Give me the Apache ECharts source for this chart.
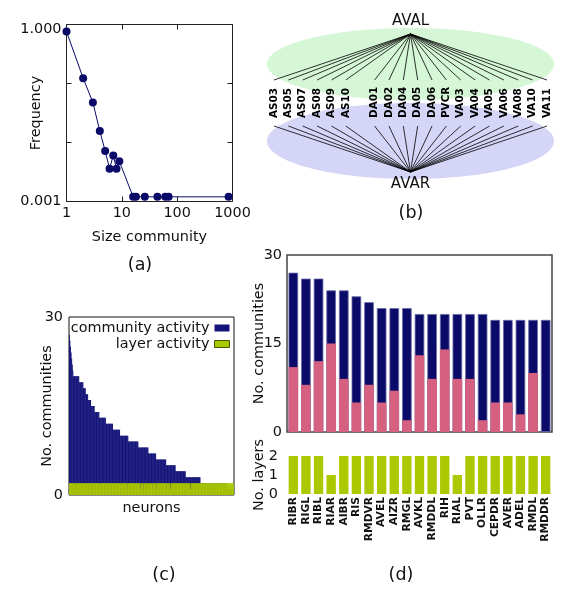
<!DOCTYPE html>
<html>
<head>
<meta charset="utf-8">
<script src="https://cdn.jsdelivr.net/npm/echarts@6/dist/echarts.min.js"></script>
<style>
    html, body { margin: 0; padding: 0; background: #fff; }
    #main { width: 571px; height: 599px; }
</style>
</head>
<body>
<div id="main"></div>
<script>
    // (a) size distribution of communities
    var aSize = [1, 2, 3, 4, 5, 6, 7, 8, 9, 16, 18, 26, 44, 61, 70, 850];
    var aFreq = [0.76, 0.123, 0.0475, 0.0156, 0.0072, 0.0036, 0.006, 0.0036, 0.0048,
                 0.0012, 0.0012, 0.0012, 0.0012, 0.0012, 0.0012, 0.0012];

    // (b) neurons shared by AVAL and AVAR ('' = empty slot)
    var bSlots = ['AS03', 'AS05', 'AS07', 'AS08', 'AS09', 'AS10', '', 'DA01', 'DA02', 'DA04',
                  'DA05', 'DA06', 'PVCR', 'VA03', 'VA04', 'VA05', 'VA06', 'VA08', 'VA10', 'VA11'];

    // (c) community activity of the neurons, sorted: [value, number of neurons]
    var cRuns = [[27, 1], [26, 1], [25, 1], [24, 1], [23, 1], [22, 1], [21, 1], [20, 10], [19, 7],
                 [18, 4], [17, 4], [16, 5], [15, 6], [14, 8], [13, 11], [12, 12], [11, 12], [10, 14],
                 [9, 17], [8, 17], [7, 13], [6, 17], [5, 16], [4, 17], [3, 25], [2, 45], [1, 12]];
    // positions (in the sorted order) of the neurons active in one layer only
    var cOneLayer = [13, 52, 99, 120, 126, 133, 140, 147, 165, 171, 205];

    // (d) most active neurons
    var dNames = ['RIBR', 'RIGL', 'RIBL', 'RIAR', 'AIBR', 'RIS', 'RMDVR', 'AVEL', 'AIZR', 'RMGL', 'AVKL',
                  'RMDDL', 'RIH', 'RIAL', 'PVT', 'OLLR', 'CEPDR', 'AVER', 'ADEL', 'RMDL', 'RMDDR'];
    var dTotal = [27, 26, 26, 24, 24, 23, 22, 21, 21, 21, 20, 20, 20, 20, 20, 20, 19, 19, 19, 19, 19];
    var dPart = [11, 8, 12, 15, 9, 5, 8, 5, 7, 2, 13, 9, 14, 9, 9, 2, 5, 5, 3, 10, 0];
    var dLayers = [2, 2, 2, 1, 2, 2, 2, 2, 2, 2, 2, 2, 2, 1, 2, 2, 2, 2, 2, 2, 2];

    var FONT = 'DejaVu Sans';
    var navy = '#0a0a68',
        cNavy = '#14147a',
        pink = '#d6607f',
        lime = '#abc800',
        ink = '#111';

    // expand the runs of (c)
    var cCommunity = [], cIds = [];
    cRuns.forEach(function (r) {
        for (var k = 0; k < r[1]; k++) cCommunity.push(r[0]);
    });
    var cLayer = cCommunity.map(function (v, i) {
        cIds.push(String(i + 1));
        return cOneLayer.indexOf(i) >= 0 ? 1 : 2;
    });

    var bData = [];
    bSlots.forEach(function (n, i) { if (n) bData.push([i, 0]); });

    function shadeItem(params, api) {
        var cs = params.coordSys;
        var hx = cs.x + cs.width / 2;
        return {
            type: 'group',
            children: [
                {type: 'ellipse', shape: {cx: hx, cy: cs.y + 30, rx: cs.width / 2 + 7, ry: 36}, style: {fill: '#d6f7d6'}},
                {type: 'ellipse', shape: {cx: hx, cy: cs.y + 107, rx: cs.width / 2 + 7, ry: 38}, style: {fill: '#d5d5f7'}},
                {type: 'text', x: hx, y: cs.y - 5, style: {text: 'AVAL', font: '15px "' + FONT + '"', fill: ink,
                    textAlign: 'center', align: 'center', textVerticalAlign: 'bottom', verticalAlign: 'bottom'}},
                {type: 'text', x: hx, y: cs.y + cs.height + 5, style: {text: 'AVAR', font: '15px "' + FONT + '"', fill: ink,
                    textAlign: 'center', align: 'center', textVerticalAlign: 'top', verticalAlign: 'top'}}
            ]
        };
    }

    function linkItem(params, api) {
        var cs = params.coordSys;
        var idx = api.value(0);
        var x = api.coord([idx, 0])[0];
        var hx = cs.x + cs.width / 2;
        var top = cs.y, bot = cs.y + cs.height;
        return {
            type: 'group',
            children: [
                {type: 'line', shape: {x1: hx, y1: top, x2: x, y2: top + 46}, style: {stroke: '#000', lineWidth: 0.8}},
                {type: 'line', shape: {x1: hx, y1: bot, x2: x, y2: bot - 46}, style: {stroke: '#000', lineWidth: 0.8}},
                {type: 'text', x: x, y: top + 84, rotation: Math.PI / 2,
                    style: {text: bSlots[idx], font: 'bold 10.4px "' + FONT + '"', fill: '#000',
                        textAlign: 'left', align: 'left', textVerticalAlign: 'middle', verticalAlign: 'middle'}}
            ]
        };
    }

    function nearPow(v, p) {
        return Math.abs(Math.log(v) / Math.LN10 - p) < 1e-6;
    }

    var nameStyle = {fontSize: 14.4, color: ink, fontFamily: FONT};
    var tickStyle = {color: '#222'};

    var chart = echarts.init(document.getElementById('main'));
    var option = {
        animation: false,
        textStyle: {fontFamily: FONT},
        grid: [
            {left: 66.5, top: 24.5, width: 166, height: 177, show: true, borderColor: '#222', borderWidth: 1, outerBoundsMode: 'none'},
            {left: 274, top: 34, width: 273, height: 138, outerBoundsMode: 'none'},
            {left: 69, top: 317, width: 165, height: 178, show: true, borderColor: '#111', borderWidth: 1, outerBoundsMode: 'none'},
            {left: 287, top: 255, width: 265, height: 177, show: true, borderColor: '#444', borderWidth: 1.5, outerBoundsMode: 'none'},
            {left: 287, top: 456, width: 265, height: 38, outerBoundsMode: 'none'}
        ],
        legend: {
            data: [
                {name: 'community activity', itemStyle: {color: cNavy}},
                {name: 'layer activity', itemStyle: {color: lime, borderColor: '#4a5800', borderWidth: 1}}
            ],
            orient: 'vertical', align: 'right', right: 341, top: 321, padding: 0, itemGap: 2,
            itemWidth: 15, itemHeight: 7, icon: 'rect', selectedMode: false,
            textStyle: {fontSize: 14.4, color: ink, fontFamily: FONT}
        },
        xAxis: [
            {gridIndex: 0, type: 'log', logBase: 10, min: 1, max: 1000,
                name: 'Size community', nameLocation: 'middle', nameGap: 29, nameMoveOverlap: false, nameTextStyle: nameStyle,
                axisLine: {show: false}, axisTick: {inside: true, length: 5, lineStyle: tickStyle},
                axisLabel: {fontSize: 14.4, color: ink, margin: 5, formatter: function (v) {
                    return String(Math.round(v));
                }}, splitLine: {show: false}},
            {gridIndex: 0, type: 'log', logBase: 10, min: 1, max: 1000, position: 'top',
                axisLine: {show: false}, axisTick: {inside: true, length: 5, lineStyle: tickStyle},
                axisLabel: {show: false}, splitLine: {show: false}},
            {gridIndex: 1, type: 'category', data: bSlots, boundaryGap: false, show: false},
            {gridIndex: 2, type: 'category', data: cIds,
                name: 'neurons', nameLocation: 'middle', nameGap: 6, nameMoveOverlap: false, nameTextStyle: nameStyle,
                axisLine: {show: false}, axisTick: {show: false}, axisLabel: {show: false}},
            {gridIndex: 3, type: 'category', data: dNames,
                axisLine: {show: false}, axisTick: {show: false}, axisLabel: {show: false}},
            {gridIndex: 4, type: 'category', data: dNames,
                axisLine: {show: false}, axisTick: {show: false},
                axisLabel: {rotate: 90, interval: 0, margin: 3, fontSize: 10.7, fontWeight: 'bold', color: ink}}
        ],
        yAxis: [
            {gridIndex: 0, type: 'log', logBase: 10, min: 0.001, max: 1,
                name: 'Frequency', nameLocation: 'middle', nameRotate: 90, nameGap: 23, nameMoveOverlap: false,
                nameTextStyle: nameStyle,
                axisLine: {show: false}, axisTick: {inside: true, length: 5, lineStyle: tickStyle},
                axisLabel: {fontSize: 14.4, color: ink, margin: 5, formatter: function (v) {
                    if (nearPow(v, 0)) return '{top|1.000}';
                    if (nearPow(v, -3)) return '0.001';
                    return '';
                }, rich: {top: {fontSize: 14.4, color: ink, padding: [10, 0, 0, 0]}}}, splitLine: {show: false}},
            {gridIndex: 0, type: 'log', logBase: 10, min: 0.001, max: 1, position: 'right',
                axisLine: {show: false}, axisTick: {inside: true, length: 5, lineStyle: tickStyle},
                axisLabel: {show: false}, splitLine: {show: false}},
            {gridIndex: 1, type: 'value', min: 0, max: 1, show: false},
            {gridIndex: 2, type: 'value', min: 0, max: 30, interval: 15, z: 5,
                name: 'No. communities', nameLocation: 'middle', nameRotate: 90, nameGap: 15, nameMoveOverlap: false,
                nameTextStyle: nameStyle,
                axisLine: {show: false}, axisTick: {inside: true, length: 7, lineStyle: tickStyle},
                axisLabel: {fontSize: 14.4, color: ink, margin: 6, formatter: function (v) {
                    return v === 15 ? '' : v;
                }}, splitLine: {show: false}},
            {gridIndex: 2, type: 'value', min: 0, max: 30, interval: 15, position: 'right', z: 5,
                axisLine: {show: false}, axisTick: {inside: true, length: 7, lineStyle: tickStyle},
                axisLabel: {show: false}, splitLine: {show: false}},
            {gridIndex: 3, type: 'value', min: 0, max: 30, interval: 15,
                name: 'No. communities', nameLocation: 'middle', nameRotate: 90, nameGap: 21, nameMoveOverlap: false,
                nameTextStyle: nameStyle,
                axisLine: {show: false}, axisTick: {show: false},
                axisLabel: {fontSize: 14.4, color: ink, margin: 5}, splitLine: {show: false}},
            {gridIndex: 4, type: 'value', min: 0, max: 2, interval: 1,
                name: 'No. layers', nameLocation: 'middle', nameRotate: 90, nameGap: 21, nameMoveOverlap: false,
                nameTextStyle: nameStyle,
                axisLine: {show: false}, axisTick: {show: false},
                axisLabel: {fontSize: 14.4, color: ink, margin: 9}, splitLine: {show: false}}
        ],
        graphic: [
            {type: 'text', x: 140, y: 265, style: {text: '(a)', font: '17.5px "' + FONT + '"', fill: ink,
                textAlign: 'center', align: 'center', textVerticalAlign: 'middle', verticalAlign: 'middle'}},
            {type: 'text', x: 411, y: 213, style: {text: '(b)', font: '17.5px "' + FONT + '"', fill: ink,
                textAlign: 'center', align: 'center', textVerticalAlign: 'middle', verticalAlign: 'middle'}},
            {type: 'text', x: 164, y: 575, style: {text: '(c)', font: '17.5px "' + FONT + '"', fill: ink,
                textAlign: 'center', align: 'center', textVerticalAlign: 'middle', verticalAlign: 'middle'}},
            {type: 'text', x: 401, y: 575, style: {text: '(d)', font: '17.5px "' + FONT + '"', fill: ink,
                textAlign: 'center', align: 'center', textVerticalAlign: 'middle', verticalAlign: 'middle'}}
        ],
        series: [
            {type: 'line', xAxisIndex: 0, yAxisIndex: 0, clip: false,
                data: aSize.map(function (s, i) { return [s, aFreq[i]]; }),
                symbol: 'circle', symbolSize: 8, itemStyle: {color: navy}, lineStyle: {color: navy, width: 1}},
            {type: 'custom', xAxisIndex: 2, yAxisIndex: 2, data: [[0, 0]], renderItem: shadeItem, z: 1, silent: true},
            {type: 'custom', xAxisIndex: 2, yAxisIndex: 2, data: bData, renderItem: linkItem, z: 2, silent: true},
            {name: 'community activity', type: 'bar', xAxisIndex: 3, yAxisIndex: 3, data: cCommunity,
                barCategoryGap: '0%', barGap: '-100%', itemStyle: {color: cNavy}},
            {name: 'layer activity', type: 'bar', xAxisIndex: 3, yAxisIndex: 3, data: cLayer,
                barCategoryGap: '0%', barGap: '-100%', itemStyle: {color: lime}},
            {name: 'communities', type: 'bar', xAxisIndex: 4, yAxisIndex: 5, data: dTotal,
                barCategoryGap: '24%', barGap: '-100%',
                itemStyle: {color: navy, borderColor: '#6a6aa8', borderWidth: 0.8}},
            {name: 'part', type: 'bar', xAxisIndex: 4, yAxisIndex: 5, data: dPart,
                barCategoryGap: '24%', barGap: '-100%', itemStyle: {color: pink}},
            {name: 'layers', type: 'bar', xAxisIndex: 5, yAxisIndex: 6, data: dLayers,
                barCategoryGap: '26%', itemStyle: {color: lime}}
        ]
    };
    chart.setOption(option);
</script>
</body>
</html>
